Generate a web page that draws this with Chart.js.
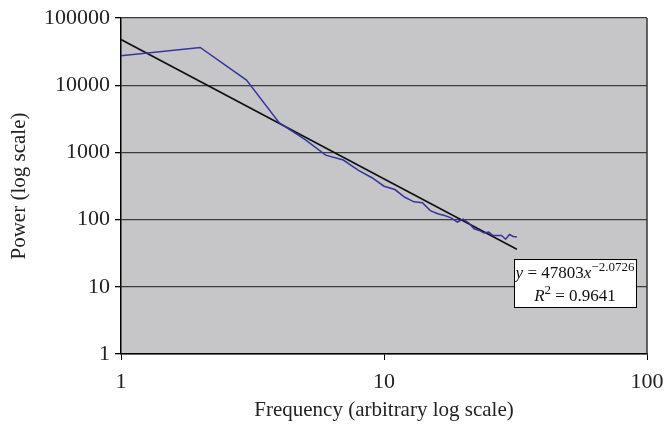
<!DOCTYPE html>
<html>
<head>
<meta charset="utf-8">
<script src="https://cdn.jsdelivr.net/npm/chart.js@4/dist/chart.umd.min.js"></script>
<style>
  html, body { margin: 0; padding: 0; background: #fff; }
  #wrap { width: 666px; height: 425px; }
</style>
</head>
<body>
<div id="wrap"><canvas id="powerChart" width="666" height="425"></canvas></div>
<script>
// === values ===
const freqs = [1, 2, 3, 4, 5, 6, 7, 8, 9, 10, 11, 12, 13, 14, 15, 16,
  17, 18, 19, 20, 21, 22, 23, 24, 25, 26, 27, 28, 29, 30, 31, 32];
const power = [27400, 36500, 11900, 2750, 1560, 910, 770, 540, 420, 314, 280, 215, 184, 178, 136, 122,
  115, 106, 92, 102, 89, 73, 69, 63, 65, 58, 58, 58, 51, 60, 56, 55];
// power-law trendline, drawn between its two end points
const trendX = [1, 32];
const trendY = [47800, 36.2];
const xTicks = [1, 10, 100];
const yTicks = [1, 10, 100, 1000, 10000, 100000];
const fitText = { coef: '47803', exp: '\u22122.0726', r2: '0.9641' };

const serif = "'Liberation Serif', 'DejaVu Serif', serif";

const plotBg = {
  id: 'plotBg',
  beforeDraw(chart) {
    const { ctx, chartArea: a } = chart;
    ctx.save();
    ctx.fillStyle = '#c6c6c9';
    ctx.fillRect(a.left, a.top, a.right - a.left, a.bottom - a.top);
    ctx.restore();
  },
  beforeDatasetsDraw(chart) {
    const { ctx, chartArea: a } = chart;
    ctx.save();
    ctx.strokeStyle = '#333';
    ctx.lineWidth = 1.5;
    ctx.beginPath();
    ctx.moveTo(a.right, a.top);
    ctx.lineTo(a.right, a.bottom);
    ctx.stroke();
    ctx.restore();
  }
};

// equation box of the trendline
const fitBox = {
  id: 'fitBox',
  afterDraw(chart) {
    const { ctx, chartArea: a } = chart;
    const left = a.right - 133, top = 259, w = 122, h = 48;
    ctx.save();
    ctx.fillStyle = '#fff';
    ctx.fillRect(left, top, w, h);
    ctx.strokeStyle = '#000';
    ctx.lineWidth = 1;
    ctx.strokeRect(left + 0.5, top + 0.5, w, h);
    ctx.fillStyle = '#111';
    ctx.textBaseline = 'alphabetic';

    const big = '17px ' + serif, ital = 'italic 17px ' + serif, small = '13px ' + serif;
    // line 1: y = 47803x^-2.0726
    const parts1 = [[ 'y', ital, 0 ], [ ' = ' + fitText.coef, big, 0 ], [ 'x', ital, 0 ], [ fitText.exp, small, -7 ]];
    let total = 0;
    parts1.forEach(p => { ctx.font = p[1]; total += ctx.measureText(p[0]).width; });
    let x = left + (w - total) / 2;
    parts1.forEach(p => { ctx.font = p[1]; ctx.fillText(p[0], x, top + 19 + p[2]); x += ctx.measureText(p[0]).width; });
    // line 2: R^2 = 0.9641
    const parts2 = [[ 'R', ital, 0 ], [ '2', small, -7 ], [ ' = ' + fitText.r2, big, 0 ]];
    total = 0;
    parts2.forEach(p => { ctx.font = p[1]; total += ctx.measureText(p[0]).width; });
    x = left + (w - total) / 2;
    parts2.forEach(p => { ctx.font = p[1]; ctx.fillText(p[0], x, top + 42 + p[2]); x += ctx.measureText(p[0]).width; });
    ctx.restore();
  }
};

const ctx = document.getElementById('powerChart').getContext('2d');
new Chart(ctx, {
  type: 'line',
  data: {
    datasets: [
      {
        label: 'Power',
        data: freqs.map((f, i) => ({ x: f, y: power[i] })),
        borderColor: '#3535a0',
        borderWidth: 1.5,
        pointRadius: 0,
        tension: 0
      },
      {
        label: 'Trend',
        data: trendX.map((f, i) => ({ x: f, y: trendY[i] })),
        borderColor: '#111',
        borderWidth: 1.6,
        pointRadius: 0
      }
    ]
  },
  options: {
    responsive: false,
    devicePixelRatio: 1,
    animation: false,
    layout: { padding: { top: 18, right: 19, left: 0, bottom: 0 } },
    plugins: { legend: { display: false }, tooltip: { enabled: false } },
    scales: {
      x: {
        type: 'logarithmic',
        min: 1,
        max: 100,
        afterBuildTicks: axis => { axis.ticks = xTicks.map(v => ({ value: v })); },
        afterFit: axis => { axis.height = 71; axis.paddingLeft = 0; axis.paddingRight = 0; },
        ticks: {
          callback: v => String(v),
          color: '#222',
          font: { family: serif, size: 22 },
          padding: 9,
          maxRotation: 0,
          autoSkip: false
        },
        grid: { drawOnChartArea: false, drawTicks: true, tickLength: 6, color: '#000' },
        border: { color: '#000', width: 1.5 },
        title: {
          display: true,
          text: 'Frequency (arbitrary log scale)',
          color: '#222',
          font: { family: serif, size: 21 },
          padding: { top: 0, bottom: 2 }
        }
      },
      y: {
        type: 'logarithmic',
        min: 1,
        max: 100000,
        afterBuildTicks: axis => { axis.ticks = yTicks.map(v => ({ value: v })); },
        afterFit: axis => { axis.width = 121; axis.paddingTop = 0; axis.paddingBottom = 0; },
        ticks: {
          callback: v => String(v),
          color: '#222',
          font: { family: serif, size: 22 },
          padding: 5,
          autoSkip: false
        },
        grid: { color: '#3c3c3c', lineWidth: 1.3, tickLength: 6, tickColor: '#000' },
        border: { color: '#000', width: 1.5 },
        title: {
          display: true,
          text: 'Power (log scale)',
          color: '#222',
          font: { family: serif, size: 21 },
          padding: { top: 7, bottom: 0 }
        }
      }
    }
  },
  plugins: [plotBg, fitBox]
});
</script>
</body>
</html>
